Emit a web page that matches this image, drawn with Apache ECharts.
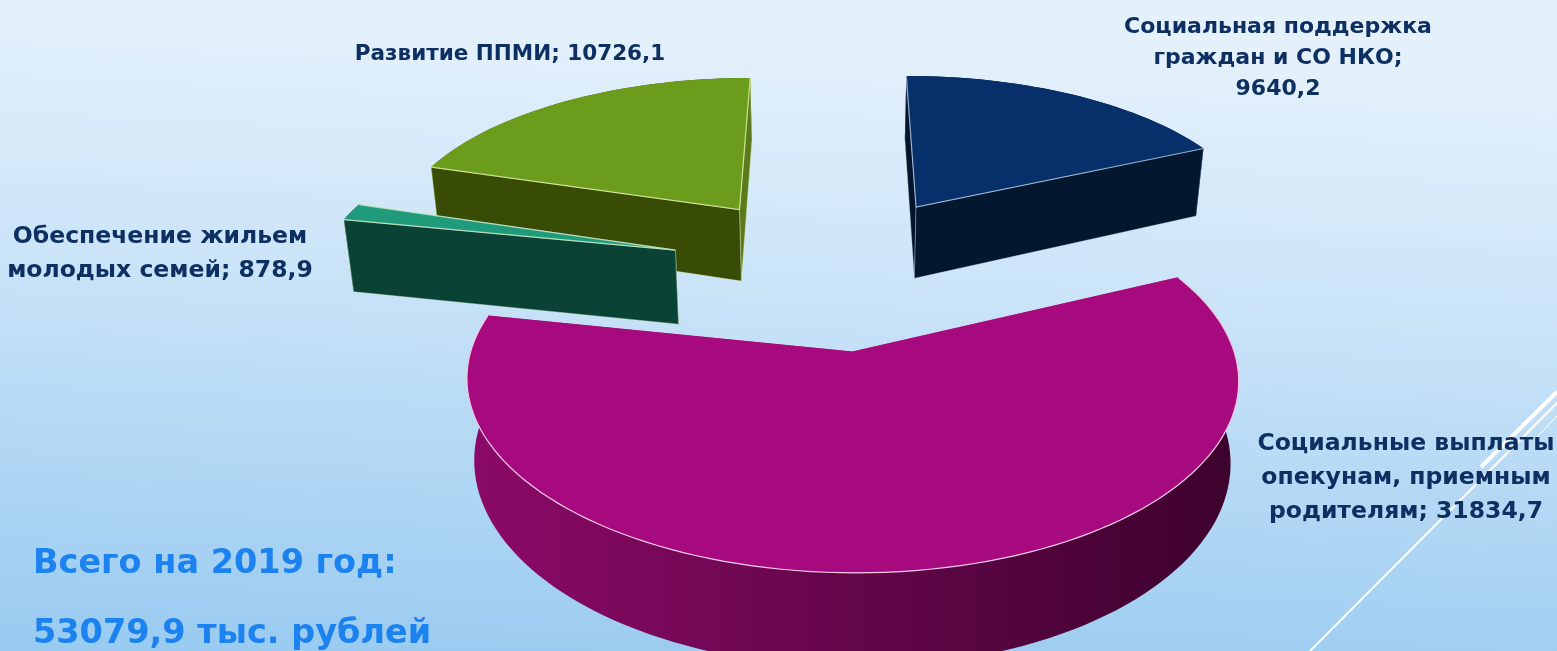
<!DOCTYPE html>
<html>
<head>
<meta charset="utf-8">
<title>Всего на 2019 год</title>
<style>
  html, body { margin: 0; padding: 0; width: 100%; height: 100%; overflow: hidden; }
  #chart { width: 1557px; height: 651px; }
</style>
<script src="https://cdn.jsdelivr.net/npm/echarts@6/dist/echarts.min.js"></script>
</head>
<body>
<div id="chart"></div>
<script>
// clockwise from 12 o'clock, same order as the source pie
const categories = [
  "Социальная поддержка\nграждан и СО НКО",
  "Социальные выплаты\nопекунам, приемным\nродителям",
  "Обеспечение жильем\nмолодых семей",
  "Развитие ППМИ"
];
const values = [9640.2, 31834.7, 878.9, 10726.1];
const totalLines = ["Всего на 2019 год:", "53079,9 тыс. рублей"];

const FONT = '"DejaVu Sans", sans-serif';

// look of each slice, same index as categories
const sliceStyles = [
  { top: "#07306a", side: ["#04142a", "#03182f"], rim: "rgba(190,215,240,0.7)", order: 0 },
  { top: "#a60a7e", side: ["#8c0a68", "#3c022c"], rim: "#f3cbe6", order: 3 },
  { top: "#1f9b7c", side: ["#0b4236", "#0b4236"], rim: "rgba(215,240,205,0.8)", order: 2 },
  { top: "#6b9c1c", side: ["#5a7a1c", "#384c06"], rim: "rgba(225,240,170,0.8)", order: 1 }
];
const labelStyles = [
  { x: 1278, y: 58, size: 22, lineHeight: 31, sep: ";\n" },
  { x: 1406, y: 478, size: 23.5, lineHeight: 34, sep: "; " },
  { x: 160, y: 254, size: 23.5, lineHeight: 34, sep: "; " },
  { x: 510, y: 54, size: 21.5, lineHeight: 31, sep: "; " }
];

// perspective of the tilted pie, fitted against the picture
const VIEW = { cx: 832, horizon: -924, depth: 1193, tilt: 1.16e-4, scale: 0.2928, stretch: 1.022, explode: 0.47, height: 0.063, taper: 0.98 };

function project(u, v) {
  const z = 1 / (1 / VIEW.depth - VIEW.tilt * v);
  return { x: VIEW.cx + VIEW.scale * u * z, y: VIEW.horizon + z, z: z };
}
function down(p) {
  return [VIEW.cx + (p.x - VIEW.cx) * VIEW.taper, p.y + VIEW.height * p.z];
}

const total = values.reduce((a, b) => a + b, 0);

function renderSlice(params, api) {
  const i = params.dataIndex;
  const value = api.value(0);
  let before = 0;
  for (let k = 0; k < i; k++) before += values[k];
  const a0 = before / total * Math.PI * 2;
  const a1 = (before + value) / total * Math.PI * 2;
  const mid = (a0 + a1) / 2;
  const ou = Math.sin(mid) * VIEW.explode;
  const ov = -Math.cos(mid) * VIEW.explode;
  const rearSlice = Math.cos(mid) > 0;
  const st = sliceStyles[i];

  const apex = project(ou, ov);
  const arc = [];
  const steps = Math.max(6, Math.round((a1 - a0) * 30));
  for (let s = 0; s <= steps; s++) {
    const a = a0 + (a1 - a0) * s / steps;
    arc.push(project(ou + Math.sin(a) * VIEW.stretch, ov - Math.cos(a)));
  }

  const xy = (p) => [p.x, p.y];
  const wall = (pts) => pts.map(xy).concat(pts.slice().reverse().map(down));
  const sideFill = new echarts.graphic.LinearGradient(0, 0, 1, 0, [
    { offset: 0, color: st.side[0] },
    { offset: 1, color: st.side[1] }
  ]);
  const base = st.order * 10;
  const children = [];
  const first = arc[0], last = arc[arc.length - 1];
  // walls back to front, the top face covers whatever is hidden
  children.push({
    type: "polygon", z2: base + (rearSlice ? 1 : 4),
    shape: { points: wall(arc) },
    style: { fill: sideFill }
  });
  const walls = [[first, apex], [last, apex]].sort((a, b) => a[0].y - b[0].y);
  walls.forEach((w, n) => {
    children.push({
      type: "polygon", z2: base + 2 + n,
      shape: { points: wall(w) },
      style: { fill: st.side[n === 0 ? 0 : 1], stroke: st.rim, lineWidth: 0.5 }
    });
  });
  children.push({
    type: "polygon", z2: base + 5,
    shape: { points: [xy(apex)].concat(arc.map(xy)) },
    style: { fill: st.top }
  });
  // bright edge only where the top face meets a wall we can see
  children.push({
    type: "polyline", z2: base + 6,
    shape: { points: rearSlice ? [xy(first), xy(apex), xy(last)] : arc.map(xy) },
    style: { fill: "none", stroke: st.rim, lineWidth: 1.2 }
  });

  const lab = labelStyles[i];
  children.push({
    type: "text", z2: 100,
    style: {
      x: lab.x, y: lab.y,
      text: categories[i] + lab.sep + String(value).replace(".", ","),
      font: "bold " + lab.size + "px " + FONT,
      fill: "#0d2f62",
      align: "center", verticalAlign: "middle",
      lineHeight: lab.lineHeight
    }
  });
  return { type: "group", children: children };
}

const chart = echarts.init(document.getElementById("chart"), null, { renderer: "canvas" });

chart.setOption({
  animation: false,
  backgroundColor: new echarts.graphic.LinearGradient(0.02, 0, 0, 1, [
    { offset: 0, color: "#e4f1fb" },
    { offset: 0.35, color: "#cde5f8" },
    { offset: 0.6, color: "#b9dbf5" },
    { offset: 1, color: "#98caf0" }
  ]),
  graphic: [
    // theme decoration in the corner
    { type: "line", z: 0, shape: { x1: 1310, y1: 651, x2: 1557, y2: 403 }, style: { stroke: "#fff", lineWidth: 2 } },
    { type: "line", z: 0, shape: { x1: 1481, y1: 467, x2: 1557, y2: 392 }, style: { stroke: "#fff", lineWidth: 4 } },
    { type: "line", z: 0, shape: { x1: 1537, y1: 437, x2: 1557, y2: 416 }, style: { stroke: "#fff", lineWidth: 1 } },
    { type: "text", z: 10, style: { x: 33, y: 564, text: totalLines[0], font: "bold 33.5px " + FONT, fill: "#1c82f0", verticalAlign: "middle" } },
    { type: "text", z: 10, style: { x: 33, y: 634, text: totalLines[1], font: "bold 33.5px " + FONT, fill: "#1c82f0", verticalAlign: "middle" } }
  ],
  series: [
    {
      type: "custom",
      coordinateSystem: "none",
      renderItem: renderSlice,
      data: values.map((v) => [v]),
      silent: true
    }
  ]
});
</script>
</body>
</html>
